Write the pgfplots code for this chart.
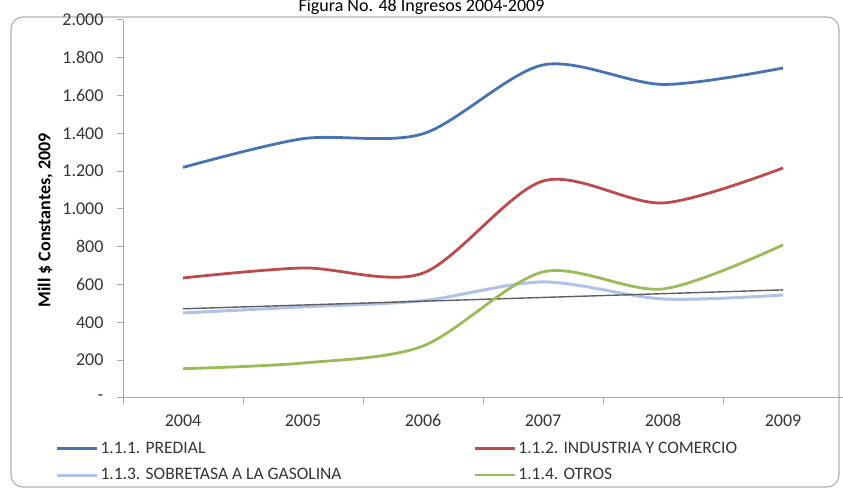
\documentclass[border=0pt]{standalone}
\usepackage{fontspec}
\setmainfont{Carlito}
\usepackage{pgfplots}
\pgfplotsset{compat=1.18}
\definecolor{cblue}{HTML}{4674B3}
\definecolor{cred}{HTML}{BE4B4B}
\definecolor{clblue}{HTML}{AFC2E8}
\definecolor{cgreen}{HTML}{9BBB59}
\definecolor{ctrend}{HTML}{5F5F5F}
\definecolor{txt}{HTML}{363636}
\definecolor{axgray}{HTML}{A6A6A6}
\begin{document}
\begin{tikzpicture}
\useasboundingbox (0,0) rectangle (843pt,492pt);
\fill[white] (0,0) rectangle (843pt,492pt);
\draw[gray!60, line width=1.2pt, rounded corners=12pt] (11pt,5pt) rectangle (839pt,475pt);
\node[anchor=base, font=\fontsize{18}{21}\selectfont, text=black] at (421.5pt,480pt) {Figura No. 48 Ingresos 2004-2009};
\begin{axis}[
  at={(123pt,94pt)}, anchor=south west,
  scale only axis, width=720pt, height=378pt,
  xmin=-0.5, xmax=5.5, ymin=0, ymax=2000,
  axis x line*=bottom, axis y line*=left,
  axis line style={axgray, line width=1pt},
  tick style={axgray, line width=1pt},
  tick align=outside, major tick length=6pt,
  xtick={-0.5,0.5,...,5.5}, x tick label as interval,
  xticklabels={2004,2005,2006,2007,2008,2009},
  ytick={0,200,...,2000},
  yticklabels={-,200,400,600,800,1.000,1.200,1.400,1.600,1.800,2.000},
  tick label style={font=\fontsize{18}{21}\selectfont, text=txt},
  xticklabel style={yshift=-7pt},
  yticklabel style={xshift=-10pt},
  ylabel={\textbf{Mill \$ Constantes, 2009}},
  every axis y label/.style={at={(axis description cs:-0.108,0.47)}, rotate=90, anchor=center, font=\fontsize{18}{21}\selectfont, text=black},
  legend columns=2, legend cell align=left,
  legend style={at={(axis description cs:-0.094,-0.11)}, anchor=north west, draw=none, fill=none, inner sep=0pt, font=\fontsize{17.5}{20}\selectfont, text=txt, row sep=10pt, /tikz/every even column/.append style={column sep=130pt}},
  legend image code/.code={\draw[#1] (0pt,0pt) -- (40pt,0pt);},
  clip=false,
]
\addplot[cblue, line width=2.8pt, smooth, tension=0.5] coordinates {(0,1220) (1,1372) (2,1398) (3,1762) (4,1659) (5,1746)};
\addlegendentry{1.1.1. PREDIAL}
\addplot[cred, line width=2.8pt, smooth, tension=0.5] coordinates {(0,635) (1,688) (2,661) (3,1148) (4,1032) (5,1217)};
\addlegendentry{1.1.2. INDUSTRIA Y COMERCIO}
\addplot[clblue, line width=3pt, smooth, tension=0.5] coordinates {(0,450) (1,482) (2,515) (3,614) (4,524) (5,545)};
\addlegendentry{1.1.3. SOBRETASA A LA GASOLINA}
\addplot[ctrend, line width=1.4pt, forget plot] coordinates {(0,472) (5,572)};
\addplot[cgreen, line width=2.8pt, smooth, tension=0.5] coordinates {(0,155) (1,185) (2,275) (3,667) (4,577) (5,810)};
\addlegendentry{1.1.4. OTROS}
\end{axis}
\end{tikzpicture}
\end{document}
